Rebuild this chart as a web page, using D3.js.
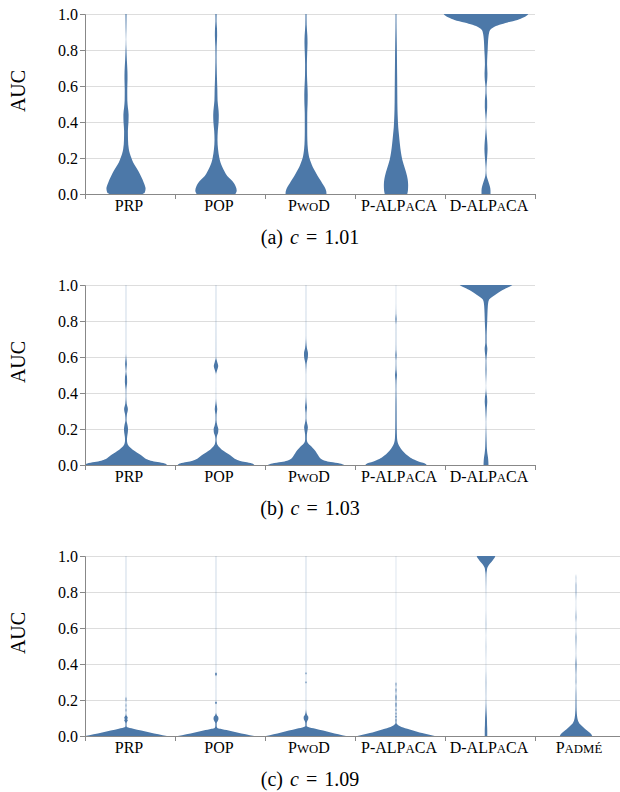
<!DOCTYPE html>
<html>
<head>
<meta charset="utf-8">
<script src="https://cdn.jsdelivr.net/npm/d3@7"></script>
<style>
  body { margin: 0; background: #fff; }
  svg text { font-family: "Liberation Serif", "DejaVu Serif", serif; }
</style>
</head>
<body>
<div id="chart"></div>
<script>
// categories (lowercase letters are drawn as small caps)
var catsAB = ["PRP", "POP", "PwoD", "P-ALPaCA", "D-ALPaCA"];
var catsC = ["PRP", "POP", "PwoD", "P-ALPaCA", "D-ALPaCA", "Padmé"];
var yTicks = [0, 0.2, 0.4, 0.6, 0.8, 1.0];
var cValues = ["1.01", "1.03", "1.09"];

// violin profiles: [AUC, relative density half-width]
// (a) c = 1.01
var prpA = [[0,0.37],[0.01,0.42],[0.03,0.435],[0.06,0.40],[0.1,0.33],[0.125,0.28],[0.15,0.22],[0.175,0.16],[0.2,0.12],[0.225,0.085],[0.25,0.062],[0.3,0.045],[0.35,0.042],[0.4,0.055],[0.44,0.058],[0.48,0.042],[0.52,0.03],[0.58,0.028],[0.64,0.034],[0.68,0.032],[0.74,0.02],[0.8,0.01],[0.86,0.003],[0.92,0.008],[1,0.012]];
var popA = [[0,0.43],[0.02,0.46],[0.04,0.44],[0.06,0.40],[0.08,0.33],[0.1,0.25],[0.125,0.19],[0.15,0.14],[0.175,0.1],[0.2,0.075],[0.25,0.045],[0.3,0.033],[0.35,0.04],[0.4,0.058],[0.44,0.062],[0.48,0.05],[0.52,0.035],[0.58,0.03],[0.64,0.022],[0.7,0.016],[0.76,0.012],[0.82,0.015],[0.88,0.025],[0.92,0.022],[0.96,0.012],[1,0.014]];
var pwodA = [[0,0.455],[0.015,0.45],[0.04,0.41],[0.06,0.36],[0.08,0.31],[0.1,0.26],[0.125,0.205],[0.15,0.15],[0.175,0.11],[0.2,0.075],[0.225,0.055],[0.25,0.042],[0.3,0.03],[0.35,0.027],[0.4,0.027],[0.45,0.028],[0.5,0.035],[0.55,0.038],[0.6,0.032],[0.66,0.022],[0.72,0.02],[0.78,0.026],[0.84,0.034],[0.88,0.03],[0.94,0.015],[1,0.012]];
var palA = [[0,0.25],[0.02,0.265],[0.05,0.27],[0.08,0.26],[0.1,0.245],[0.14,0.2],[0.19,0.14],[0.23,0.11],[0.28,0.085],[0.33,0.065],[0.37,0.05],[0.42,0.04],[0.47,0.033],[0.55,0.029],[0.65,0.026],[0.74,0.022],[0.83,0.018],[0.92,0.012],[1,0.01]];
var dalA = [[0,0.10],[0.02,0.10],[0.04,0.088],[0.06,0.065],[0.08,0.038],[0.1,0.016],[0.13,0.006],[0.17,0.014],[0.21,0.027],[0.25,0.035],[0.29,0.028],[0.34,0.012],[0.39,0.003],[0.44,0.014],[0.48,0.026],[0.52,0.025],[0.56,0.012],[0.59,0.01],[0.63,0.026],[0.67,0.032],[0.72,0.024],[0.77,0.03],[0.8,0.037],[0.85,0.046],[0.875,0.055],[0.895,0.068],[0.911,0.09],[0.925,0.16],[0.94,0.3],[0.953,0.48],[0.967,0.70],[0.98,0.83],[0.99,0.9],[1,0.94]];

// (b) c = 1.03
var prpB = [[0,0.91],[0.008,0.86],[0.016,0.7],[0.024,0.55],[0.032,0.46],[0.042,0.4],[0.055,0.33],[0.07,0.24],[0.085,0.15],[0.1,0.082],[0.11,0.05],[0.12,0.032],[0.135,0.022],[0.155,0.025],[0.18,0.04],[0.2,0.045],[0.22,0.035],[0.25,0.012],[0.28,0.02],[0.31,0.042],[0.34,0.016],[0.38,0.006],[0.42,0.008],[0.46,0.025],[0.49,0.022],[0.52,0.006],[0.56,0.02],[0.59,0.01],[0.62,0.003],[1,0.003]];
var popB = [[0,0.85],[0.008,0.8],[0.016,0.65],[0.024,0.52],[0.032,0.44],[0.042,0.38],[0.055,0.31],[0.07,0.22],[0.085,0.13],[0.1,0.07],[0.11,0.04],[0.12,0.022],[0.14,0.012],[0.16,0.02],[0.185,0.05],[0.2,0.052],[0.22,0.03],[0.25,0.01],[0.28,0.012],[0.31,0.028],[0.34,0.012],[0.37,0.003],[0.5,0.002],[0.53,0.03],[0.55,0.05],[0.57,0.03],[0.6,0.004],[1,0.003]];
var pwodB = [[0,0.845],[0.008,0.75],[0.016,0.55],[0.024,0.42],[0.035,0.33],[0.05,0.28],[0.065,0.24],[0.08,0.2],[0.095,0.15],[0.11,0.09],[0.12,0.05],[0.13,0.025],[0.145,0.018],[0.17,0.02],[0.195,0.035],[0.21,0.042],[0.23,0.025],[0.26,0.008],[0.29,0.01],[0.32,0.022],[0.35,0.01],[0.4,0.003],[0.5,0.003],[0.56,0.012],[0.6,0.042],[0.62,0.045],[0.65,0.02],[0.68,0.008],[0.72,0.003],[1,0.003]];
var palB = [[0,0.68],[0.006,0.66],[0.012,0.6],[0.02,0.5],[0.03,0.4],[0.045,0.3],[0.06,0.22],[0.08,0.14],[0.1,0.085],[0.12,0.045],[0.135,0.03],[0.155,0.022],[0.2,0.017],[0.25,0.015],[0.3,0.014],[0.36,0.012],[0.42,0.008],[0.47,0.012],[0.5,0.022],[0.53,0.01],[0.58,0.006],[0.61,0.015],[0.64,0.006],[0.7,0.004],[0.78,0.004],[0.81,0.014],[0.84,0.005],[0.9,0.002],[1,0.002]];
var dalB = [[0,0.055],[0.02,0.052],[0.04,0.045],[0.065,0.03],[0.09,0.02],[0.12,0.015],[0.16,0.01],[0.2,0.006],[0.24,0.004],[0.28,0.01],[0.32,0.018],[0.35,0.028],[0.38,0.022],[0.41,0.006],[0.44,0.002],[0.48,0.006],[0.53,0.012],[0.58,0.008],[0.62,0.022],[0.645,0.03],[0.68,0.014],[0.72,0.014],[0.76,0.02],[0.8,0.027],[0.84,0.032],[0.88,0.04],[0.9,0.048],[0.917,0.065],[0.93,0.12],[0.944,0.2],[0.958,0.28],[0.972,0.37],[0.99,0.52],[1,0.585]];

// (c) c = 1.09
var prpC = [[0,0.91],[0.01,0.72],[0.02,0.53],[0.03,0.34],[0.04,0.16],[0.048,0.03],[0.055,0.012],[0.07,0.012],[0.08,0.025],[0.088,0.04],[0.095,0.025],[0.1,0.04],[0.107,0.03],[0.115,0.01],[0.13,0.004],[0.145,0.012],[0.155,0.004],[0.17,0.01],[0.185,0.003],[0.205,0.012],[0.22,0.003],[1,0.003]];
var popC = [[0,0.85],[0.01,0.66],[0.02,0.47],[0.03,0.28],[0.04,0.1],[0.045,0.03],[0.055,0.015],[0.07,0.015],[0.085,0.04],[0.095,0.055],[0.105,0.05],[0.115,0.02],[0.13,0.003],[0.175,0.003],[0.185,0.02],[0.195,0.003],[0.33,0.003],[0.345,0.02],[0.355,0.003],[1,0.003]];
var pwodC = [[0,0.89],[0.01,0.72],[0.02,0.55],[0.03,0.38],[0.04,0.21],[0.05,0.05],[0.056,0.015],[0.07,0.015],[0.085,0.03],[0.095,0.05],[0.105,0.052],[0.115,0.03],[0.125,0.015],[0.135,0.008],[0.15,0.003],[0.29,0.003],[0.298,0.015],[0.306,0.003],[0.34,0.003],[0.348,0.015],[0.356,0.003],[1,0.003]];
var palC = [[0,0.86],[0.008,0.72],[0.016,0.58],[0.024,0.47],[0.032,0.36],[0.04,0.25],[0.047,0.16],[0.054,0.09],[0.06,0.05],[0.066,0.02],[0.075,0.01],[0.09,0.015],[0.1,0.005],[0.107,0.018],[0.115,0.005],[0.125,0.014],[0.135,0.004],[0.144,0.015],[0.155,0.004],[0.165,0.012],[0.18,0.014],[0.19,0.004],[0.2,0.01],[0.22,0.014],[0.235,0.004],[0.257,0.013],[0.27,0.004],[0.29,0.012],[0.3,0.002],[1,0.002]];
var dalC = [[0,0.028],[0.03,0.028],[0.06,0.024],[0.1,0.02],[0.14,0.012],[0.18,0.006],[0.22,0.004],[0.3,0.006],[0.36,0.003],[0.42,0.002],[0.5,0.004],[0.56,0.002],[0.62,0.005],[0.7,0.002],[0.8,0.003],[0.86,0.006],[0.9,0.01],[0.92,0.02],[0.935,0.03],[0.945,0.05],[0.955,0.08],[0.969,0.13],[0.983,0.17],[0.995,0.2],[1,0.205]];
var padC = [[0,0.36],[0.012,0.33],[0.024,0.28],[0.038,0.21],[0.052,0.15],[0.07,0.075],[0.085,0.045],[0.1,0.03],[0.126,0.018],[0.16,0.012],[0.2,0.01],[0.24,0.008],[0.28,0.004],[0.3,0.008],[0.34,0.006],[0.37,0.01],[0.4,0.012],[0.43,0.006],[0.46,0.003],[0.5,0.005],[0.55,0.009],[0.58,0.003],[0.63,0.003],[0.66,0.008],[0.7,0.003],[0.75,0.002],[0.8,0.007],[0.84,0.007],[0.86,0.003],[0.88,0.004],[0.9,0.0]];

var width = 620, height = 792;
var left = 85, band = 90, plotH = 180;
var violinColor = "#4c78a8";
var serif = "'Liberation Serif', 'DejaVu Serif', serif";

var svg = d3.select("#chart")
  .append("svg")
    .attr("width", width)
    .attr("height", height)
    .attr("font-family", serif);

// draws a category label, lowercase letters as small caps
function smallCapsLabel(sel, label, size) {
  var parts = label.match(/([^a-zé]+|[a-zé]+)/g);
  parts.forEach(function(p) {
    var small = /[a-zé]/.test(p);
    sel.append("tspan")
      .style("font-size", (small ? size * 0.8 : size) + "px")
      .text(small ? p.toUpperCase() : p);
  });
}

function drawPanel(top, cats, violins, letter, cval) {
  var g = svg.append("g").attr("transform", "translate(0," + top + ")");

  var x = d3.scaleBand()
    .domain(cats)
    .range([left, left + band * cats.length])
    .padding(0);

  var y = d3.scaleLinear()
    .domain([0, 1])
    .range([plotH, 0]);

  var w = d3.scaleLinear()
    .domain([0, 1])
    .range([0, band / 2]);

  // grid
  g.append("g").selectAll("line")
    .data(yTicks)
    .enter().append("line")
      .attr("x1", x.range()[0])
      .attr("x2", x.range()[1])
      .attr("y1", function(d) { return y(d) + 0.5; })
      .attr("y2", function(d) { return y(d) + 0.5; })
      .attr("stroke", "#dddddd");

  // violins
  violins.forEach(function(prof, i) {
    var cx = x(cats[i]) + x.bandwidth() / 2 - 4;
    var pts = prof.slice().sort(function(a, b) { return b[0] - a[0]; });
    var area = d3.area()
      .curve(d3.curveMonotoneY)
      .y(function(d) { return y(d[0]); })
      .x0(function(d) { return cx - w(d[1]); })
      .x1(function(d) { return cx + w(d[1]); });
    g.append("path")
      .attr("d", area(pts))
      .attr("fill", violinColor);
  });

  // y axis
  var yAxis = g.append("g")
    .attr("transform", "translate(" + left + ",0)")
    .call(d3.axisLeft(y).tickValues(yTicks).tickFormat(d3.format(".1f")).tickSize(5).tickPadding(2))
    .attr("font-family", serif)
    .attr("font-size", 16);
  yAxis.select(".domain").attr("stroke", "#888");
  yAxis.selectAll(".tick line").attr("stroke", "#888");
  yAxis.selectAll("text").attr("fill", "#000");

  // x axis
  var xa = g.append("g").attr("transform", "translate(0," + plotH + ")");
  xa.append("line")
    .attr("x1", x.range()[0]).attr("x2", x.range()[1])
    .attr("y1", 0.5).attr("y2", 0.5)
    .attr("stroke", "#888");
  var edges = cats.map(function(c) { return x(c); }).concat([x.range()[1]]);
  xa.selectAll(".edge")
    .data(edges)
    .enter().append("line")
      .attr("class", "edge")
      .attr("x1", function(d) { return d + 0.5; })
      .attr("x2", function(d) { return d + 0.5; })
      .attr("y1", 0).attr("y2", 5)
      .attr("stroke", "#888");
  xa.selectAll(".lab")
    .data(cats)
    .enter().append("text")
      .attr("class", "lab")
      .attr("x", function(d) { return x(d) + x.bandwidth() / 2 - 1; })
      .attr("y", 17)
      .attr("text-anchor", "middle")
      .style("font-size", "16px")
      .each(function(d) { smallCapsLabel(d3.select(this), d, 16); });

  // y title
  g.append("text")
    .attr("transform", "translate(25," + (plotH / 2 - 13) + ")rotate(-90)")
    .attr("text-anchor", "middle")
    .style("font-size", "20px")
    .text("AUC");

  // caption
  var cap = g.append("text")
    .attr("x", 310)
    .attr("y", plotH + 50)
    .attr("text-anchor", "middle")
    .style("font-size", "20px");
  cap.append("tspan").text("(" + letter + ")");
  cap.append("tspan").attr("dx", 7).style("font-style", "italic").text("c");
  cap.append("tspan").attr("dx", 7).text("=");
  cap.append("tspan").attr("dx", 7).text(cval);
}

drawPanel(14, catsAB, [prpA, popA, pwodA, palA, dalA], "a", cValues[0]);
drawPanel(285, catsAB, [prpB, popB, pwodB, palB, dalB], "b", cValues[1]);
drawPanel(556, catsC, [prpC, popC, pwodC, palC, dalC, padC], "c", cValues[2]);
</script>
</body>
</html>
